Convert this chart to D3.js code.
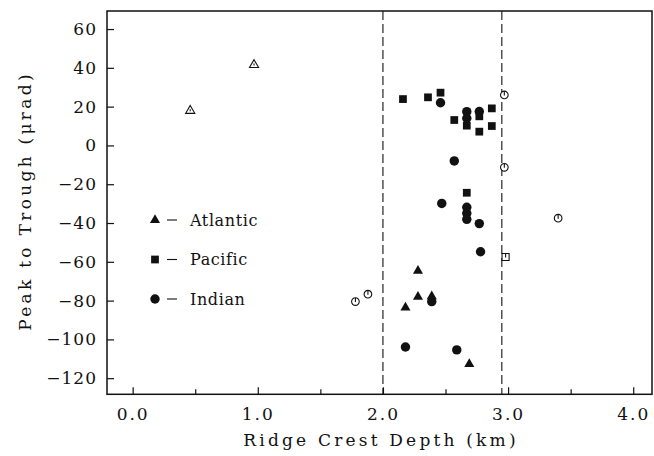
<!DOCTYPE html>
<html>
<head>
<meta charset="utf-8">
<script src="https://cdn.jsdelivr.net/npm/d3@7"></script>
<style>
  html, body { margin: 0; padding: 0; background: #fff; }
  svg { display: block; }
  text { font-family: "DejaVu Serif", "Liberation Serif", serif; fill: #111; }
</style>
</head>
<body>
<svg id="chart" width="654" height="456"></svg>
<script>
// Peak-to-trough amplitude vs ridge crest depth, grouped by ocean basin.
// Filled symbols: Atlantic (triangles), Pacific (squares), Indian (circles).
const atlanticDepth = [2.28, 2.28, 2.39, 2.18, 2.69];
const atlanticPeak  = [-64.6, -78.0, -77.8, -83.6, -112.7];

const pacificDepth = [2.16, 2.36, 2.46, 2.57, 2.67, 2.77, 2.77, 2.87, 2.87, 2.67];
const pacificPeak  = [23.9, 24.8, 27.2, 13.1, 10.2, 15.0, 7.1, 19.1, 10.0, -24.4];

const indianDepth = [2.46, 2.67, 2.67, 2.77, 2.57, 2.47, 2.67, 2.67, 2.67, 2.77, 2.78, 2.39, 2.18, 2.59];
const indianPeak  = [22.0, 17.4, 14.0, 17.5, -8.0, -29.9, -31.9, -35.0, -38.1, -40.3, -54.8, -80.5, -103.9, -105.4];

// Open (flagged) symbols
const openCircleDepth = [2.97, 2.97, 3.40, 1.78, 1.88];
const openCirclePeak  = [26.0, -11.3, -37.5, -80.5, -76.7];
const openSquareDepth = [2.98];
const openSquarePeak  = [-57.5];
const openTriangleDepth = [0.46, 0.97];
const openTrianglePeak  = [17.9, 41.5];

// Depth band boundaries (dashed verticals)
const bandEdges = [2.0, 2.95];

const xTicks = [0, 1, 2, 3, 4];
const xMinorTicks = [0.5, 1.5, 2.5, 3.5];
const yTicks = [60, 40, 20, 0, -20, -40, -60, -80, -100, -120];

const legendItems = ["Atlantic", "Pacific", "Indian"];

const svg = d3.select("#chart");
const frame = { left: 107, right: 652, top: 11, bottom: 394.3 };

const x = d3.scaleLinear().domain([-0.205, 4.15]).range([frame.left, frame.right]);
const y = d3.scaleLinear().domain([-128.3, 69.3]).range([frame.bottom, frame.top]);

// Frame
svg.append("rect")
  .attr("x", frame.left).attr("y", frame.top)
  .attr("width", frame.right - frame.left)
  .attr("height", frame.bottom - frame.top)
  .attr("fill", "none").attr("stroke", "#111").attr("stroke-width", 1.5);

// Bottom axis: inward ticks, major labelled
const xAxis = svg.append("g")
  .attr("transform", `translate(0,${frame.bottom})`)
  .call(d3.axisBottom(x).tickValues(xTicks).tickSizeInner(-7).tickSizeOuter(0)
        .tickPadding(14).tickFormat(d3.format(".1f")));
xAxis.select(".domain").remove();
xAxis.selectAll("line").attr("stroke", "#111").attr("stroke-width", 1.2);
xAxis.selectAll("text").attr("font-size", 17).attr("letter-spacing", "2px")
  .attr("font-family", "DejaVu Serif").attr("fill", "#111");

const xMinor = svg.append("g")
  .attr("transform", `translate(0,${frame.bottom})`)
  .call(d3.axisBottom(x).tickValues(xMinorTicks).tickSizeInner(-5).tickSizeOuter(0).tickFormat(""));
xMinor.select(".domain").remove();
xMinor.selectAll("line").attr("stroke", "#111").attr("stroke-width", 1.2);

// Left axis
const yAxis = svg.append("g")
  .attr("transform", `translate(${frame.left},0)`)
  .call(d3.axisLeft(y).tickValues(yTicks).tickSizeInner(-7).tickSizeOuter(0).tickPadding(10));
yAxis.select(".domain").remove();
yAxis.selectAll("line").attr("stroke", "#111").attr("stroke-width", 1.2);
yAxis.selectAll("text").attr("font-size", 17).attr("letter-spacing", "1px")
  .attr("font-family", "DejaVu Serif").attr("fill", "#111");

// Axis titles
svg.append("text")
  .attr("x", 381).attr("y", 446)
  .attr("text-anchor", "middle").attr("font-size", 17).attr("letter-spacing", "3.2px")
  .text("Ridge Crest Depth (km)");

svg.append("text")
  .attr("transform", `translate(31,${201}) rotate(-90)`)
  .attr("text-anchor", "middle").attr("font-size", 17).attr("letter-spacing", "3.3px")
  .text("Peak to Trough (\u03BCrad)");

// Dashed band edges
svg.selectAll("line.band").data(bandEdges).join("line")
  .attr("class", "band")
  .attr("x1", d => x(d)).attr("x2", d => x(d))
  .attr("y1", frame.top).attr("y2", frame.bottom)
  .attr("stroke", "#111").attr("stroke-width", 1.1)
  .attr("stroke-dasharray", "9,4");

const zip = (a, b) => a.map((v, i) => [v, b[i]]);

const sq = d3.symbol().type(d3.symbolSquare).size(60)();
const ci = d3.symbol().type(d3.symbolCircle).size(70)();
const tr = d3.symbol().type(d3.symbolTriangle).size(44)();

function filled(data, path, cls) {
  svg.selectAll("path." + cls).data(data).join("path")
    .attr("class", cls)
    .attr("d", path)
    .attr("transform", d => `translate(${x(d[0])},${y(d[1])})`)
    .attr("fill", "#111");
}

filled(zip(pacificDepth, pacificPeak), sq, "pac");
filled(zip(indianDepth, indianPeak), ci, "ind");
filled(zip(atlanticDepth, atlanticPeak), tr, "atl");

// Open symbols with a short flag stroke
const osq = d3.symbol().type(d3.symbolSquare).size(50)();
const oci = d3.symbol().type(d3.symbolCircle).size(46)();
const otr = d3.symbol().type(d3.symbolTriangle).size(36)();

function open(data, path, cls, flagTop) {
  const g = svg.selectAll("g." + cls).data(data).join("g")
    .attr("class", cls)
    .attr("transform", d => `translate(${x(d[0])},${y(d[1])})`);
  g.append("path").attr("d", path).attr("fill", "#fff")
    .attr("stroke", "#111").attr("stroke-width", 1.1);
  g.append("line").attr("x1", 0).attr("x2", 0).attr("y1", flagTop).attr("y2", 0.5)
    .attr("stroke", "#111").attr("stroke-width", 1.1);
}

open(zip(openCircleDepth, openCirclePeak), oci, "oci", -3.7);
open(zip(openSquareDepth, openSquarePeak), osq, "osq", -3.5);
open(zip(openTriangleDepth, openTrianglePeak), otr, "otr", -1.5);

// Legend
const legendShapes = [tr, sq, ci];
const legendY = [220, 259.5, 299];
const lg = svg.selectAll("g.legend").data(legendItems).join("g")
  .attr("class", "legend")
  .attr("transform", (d, i) => `translate(155,${legendY[i]})`);
lg.append("path").attr("d", (d, i) => legendShapes[i]).attr("fill", "#111");
lg.append("line").attr("x1", 12).attr("x2", 22).attr("y1", 0).attr("y2", 0)
  .attr("stroke", "#111").attr("stroke-width", 1.1);
lg.append("text").attr("x", 35).attr("y", 0).attr("dy", "0.35em")
  .attr("font-size", 16).attr("letter-spacing", "0.6px")
  .text(d => d);
</script>
</body>
</html>
